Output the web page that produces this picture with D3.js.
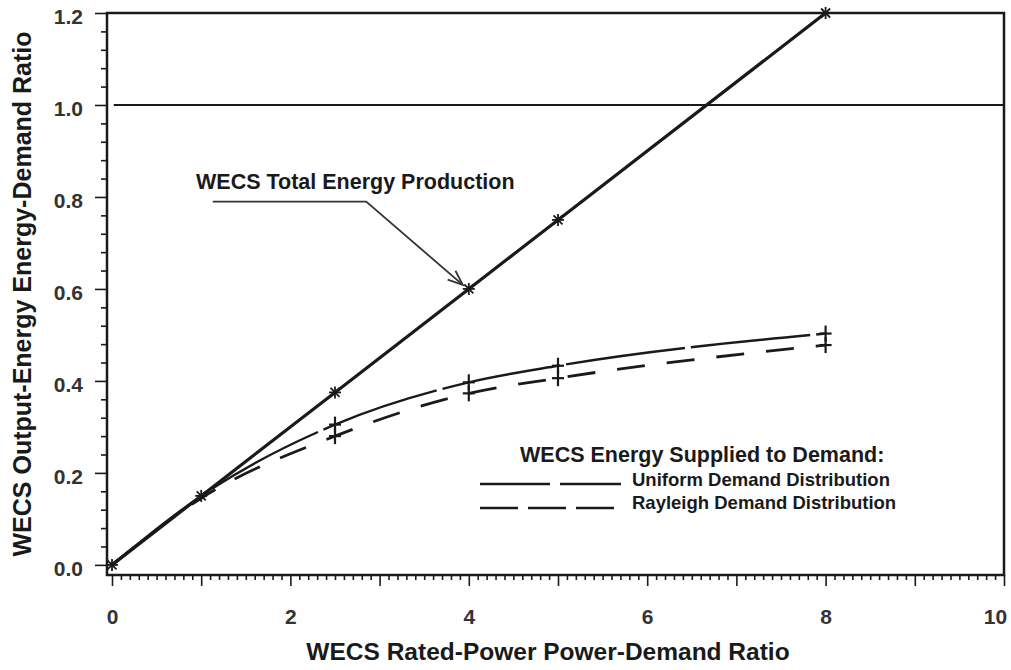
<!DOCTYPE html>
<html><head><meta charset="utf-8">
<script src="https://cdn.jsdelivr.net/npm/d3@7"></script>
<style>body{margin:0;background:#fff}svg{display:block;font-family:"Liberation Sans",Arial,sans-serif;font-weight:bold}</style>
</head><body><svg id="c" width="1011" height="670"></svg>
<script>
const totalX = [0, 1, 2.5, 4, 5, 8];
const totalY = [0, 0.15, 0.375, 0.6, 0.75, 1.2];
const uniformX = [0, 1, 2.5, 4, 5, 8];
const uniformY = [0, 0.15, 0.305, 0.397, 0.433, 0.503];
const rayleighX = [0, 1, 2.5, 4, 5, 8];
const rayleighY = [0, 0.145, 0.28, 0.373, 0.406, 0.478];
const xTickLabels = [0, 2, 4, 6, 8, 10];
const yTickLabels = [0.0, 0.2, 0.4, 0.6, 0.8, 1.0, 1.2];
const referenceY = 1.0;

const svg = d3.select("#c");
const ink = "#1a1a1a";
const x = d3.scaleLinear().domain([-0.056, 10]).range([107, 1004]);
const y = d3.scaleLinear().domain([-0.022, 1.2]).range([575, 13]);

// frame
svg.append("rect").attr("x", x(-0.056)).attr("y", y(1.2)).attr("width", x(10) - x(-0.056)).attr("height", y(-0.022) - y(1.2))
  .attr("fill", "none").attr("stroke", ink).attr("stroke-width", 2.5);

// x axis ticks
const xMinor = d3.range(0, 100.5).map(i => i / 10);
const xg = svg.append("g").attr("transform", `translate(0,${y(-0.022)})`);
xg.call(d3.axisBottom(x).tickValues(xMinor).tickSize(5).tickFormat(""));
xg.selectAll(".tick line").attr("stroke", ink).attr("stroke-width", 1.6)
  .attr("y2", d => (Math.abs(d - Math.round(d)) < 1e-6) ? 11 : 5);
xg.select(".domain").remove();
const xl = svg.append("g").attr("transform", `translate(0,${y(-0.022)})`);
xl.call(d3.axisBottom(x).tickValues(xTickLabels).tickSize(0).tickPadding(34).tickFormat(d3.format("d")));
xl.select(".domain").remove();
xl.selectAll("text").attr("font-size", 21).attr("font-weight", "bold").attr("fill", "#333").attr("font-family", "Liberation Sans, Arial, sans-serif")
  .attr("dx", d => d === 10 ? -9 : 0);

// y axis
const yMinor = d3.range(0, 30.5).map(i => i * 0.04);
const yg = svg.append("g").attr("transform", `translate(${x(-0.056)},0)`);
yg.call(d3.axisLeft(y).tickValues(yMinor).tickSize(6).tickFormat(""));
yg.selectAll(".tick line").attr("stroke", ink).attr("stroke-width", 1.6)
  .attr("x2", d => (Math.abs(d * 5 - Math.round(d * 5)) < 1e-6) ? -12 : -6);
yg.select(".domain").remove();
const yl = svg.append("g").attr("transform", `translate(${x(-0.056)},0)`);
yl.call(d3.axisLeft(y).tickValues(yTickLabels).tickSize(0).tickPadding(24).tickFormat(d3.format(".1f")));
yl.select(".domain").remove();
yl.selectAll("text").attr("font-size", 21).attr("font-weight", "bold").attr("fill", "#333").attr("font-family", "Liberation Sans, Arial, sans-serif").attr("dy", "0.5em");

// reference line at 1.0
svg.append("line").attr("x1", x(0.02)).attr("x2", x(10)).attr("y1", y(referenceY)).attr("y2", y(referenceY))
  .attr("stroke", ink).attr("stroke-width", 2.2);

// lines
const line = d3.line().x(d => x(d[0])).y(d => y(d[1])).curve(d3.curveMonotoneX);
const totalData = totalX.map((v, i) => [v, totalY[i]]);
const uniData = uniformX.map((v, i) => [v, uniformY[i]]);
const rayData = rayleighX.map((v, i) => [v, rayleighY[i]]);

svg.append("path").datum(uniData).attr("d", line).attr("fill", "none").attr("stroke", ink).attr("stroke-width", 2.4)
  .attr("stroke-dasharray", "120,6");
svg.append("path").datum(rayData).attr("d", line).attr("fill", "none").attr("stroke", ink).attr("stroke-width", 2.8)
  .attr("stroke-dasharray", "28,22");
svg.append("path").datum(totalData).attr("d", d3.line().x(d => x(d[0])).y(d => y(d[1]))).attr("fill", "none").attr("stroke", ink).attr("stroke-width", 3.2);

// asterisk markers for total
const star = svg.append("g").selectAll("g").data(totalData).join("g")
  .attr("transform", d => `translate(${x(d[0])},${y(d[1])})`);
[[-6,0,6,0],[0,-6,0,6],[-4.5,-4.5,4.5,4.5],[-4.5,4.5,4.5,-4.5]].forEach(s => {
  star.append("line").attr("x1", s[0]).attr("y1", s[1]).attr("x2", s[2]).attr("y2", s[3]).attr("stroke", ink).attr("stroke-width", 1.8);
});

// plus markers for demand curves
function plus(data) {
  const g = svg.append("g").selectAll("g").data(data.filter(d => d[0] >= 2)).join("g")
    .attr("transform", d => `translate(${x(d[0])},${y(d[1])})`);
  g.append("line").attr("x1", -6).attr("x2", 6).attr("stroke", ink).attr("stroke-width", 2.2);
  g.append("line").attr("y1", -8).attr("y2", 8).attr("stroke", ink).attr("stroke-width", 2.2);
}
plus(uniData); plus(rayData);

// annotation
svg.append("text").attr("x", 196).attr("y", 189).attr("font-size", 21.5).attr("fill", ink).text("WECS Total Energy Production");
const ax0 = x(1.13), ay = y(0.79), ax1 = x(2.85), tipX = x(4) - 6, tipY = y(0.6) - 4;
svg.append("path").attr("d", `M${ax0},${ay}L${ax1},${ay}L${tipX},${tipY}`).attr("fill", "none").attr("stroke", "#333").attr("stroke-width", 1.8);
const ang = Math.atan2(tipY - ay, tipX - ax1);
const hl = 16, hw = 0.38;
svg.append("path").attr("d", `M${tipX - hl*Math.cos(ang-hw)},${tipY - hl*Math.sin(ang-hw)}L${tipX},${tipY}L${tipX - hl*Math.cos(ang+hw)},${tipY - hl*Math.sin(ang+hw)}`)
  .attr("fill", "none").attr("stroke", "#333").attr("stroke-width", 1.8);

// legend
svg.append("text").attr("x", 520).attr("y", 462).attr("font-size", 21.5).attr("fill", ink).text("WECS Energy Supplied to Demand:");
const legend = [["Uniform Demand Distribution", "70,10"], ["Rayleigh Demand Distribution", "38,10"]];
legend.forEach((l, i) => {
  const yy = 484 + i * 24;
  svg.append("line").attr("x1", 480).attr("x2", 621).attr("y1", yy).attr("y2", yy).attr("stroke", ink).attr("stroke-width", 2.4).attr("stroke-dasharray", l[1]);
  svg.append("text").attr("x", 632).attr("y", yy + 2 - i*1).attr("font-size", 18.5).attr("fill", ink).text(l[0]);
});

// axis titles
svg.append("text").attr("x", 548).attr("y", 660).attr("text-anchor", "middle").attr("font-size", 24.5).attr("fill", ink)
  .text("WECS Rated-Power Power-Demand Ratio");
svg.append("text").attr("transform", `translate(31,294) rotate(-90)`).attr("text-anchor", "middle").attr("font-size", 25).attr("fill", ink)
  .text("WECS Output-Energy Energy-Demand Ratio");
</script></body></html>
